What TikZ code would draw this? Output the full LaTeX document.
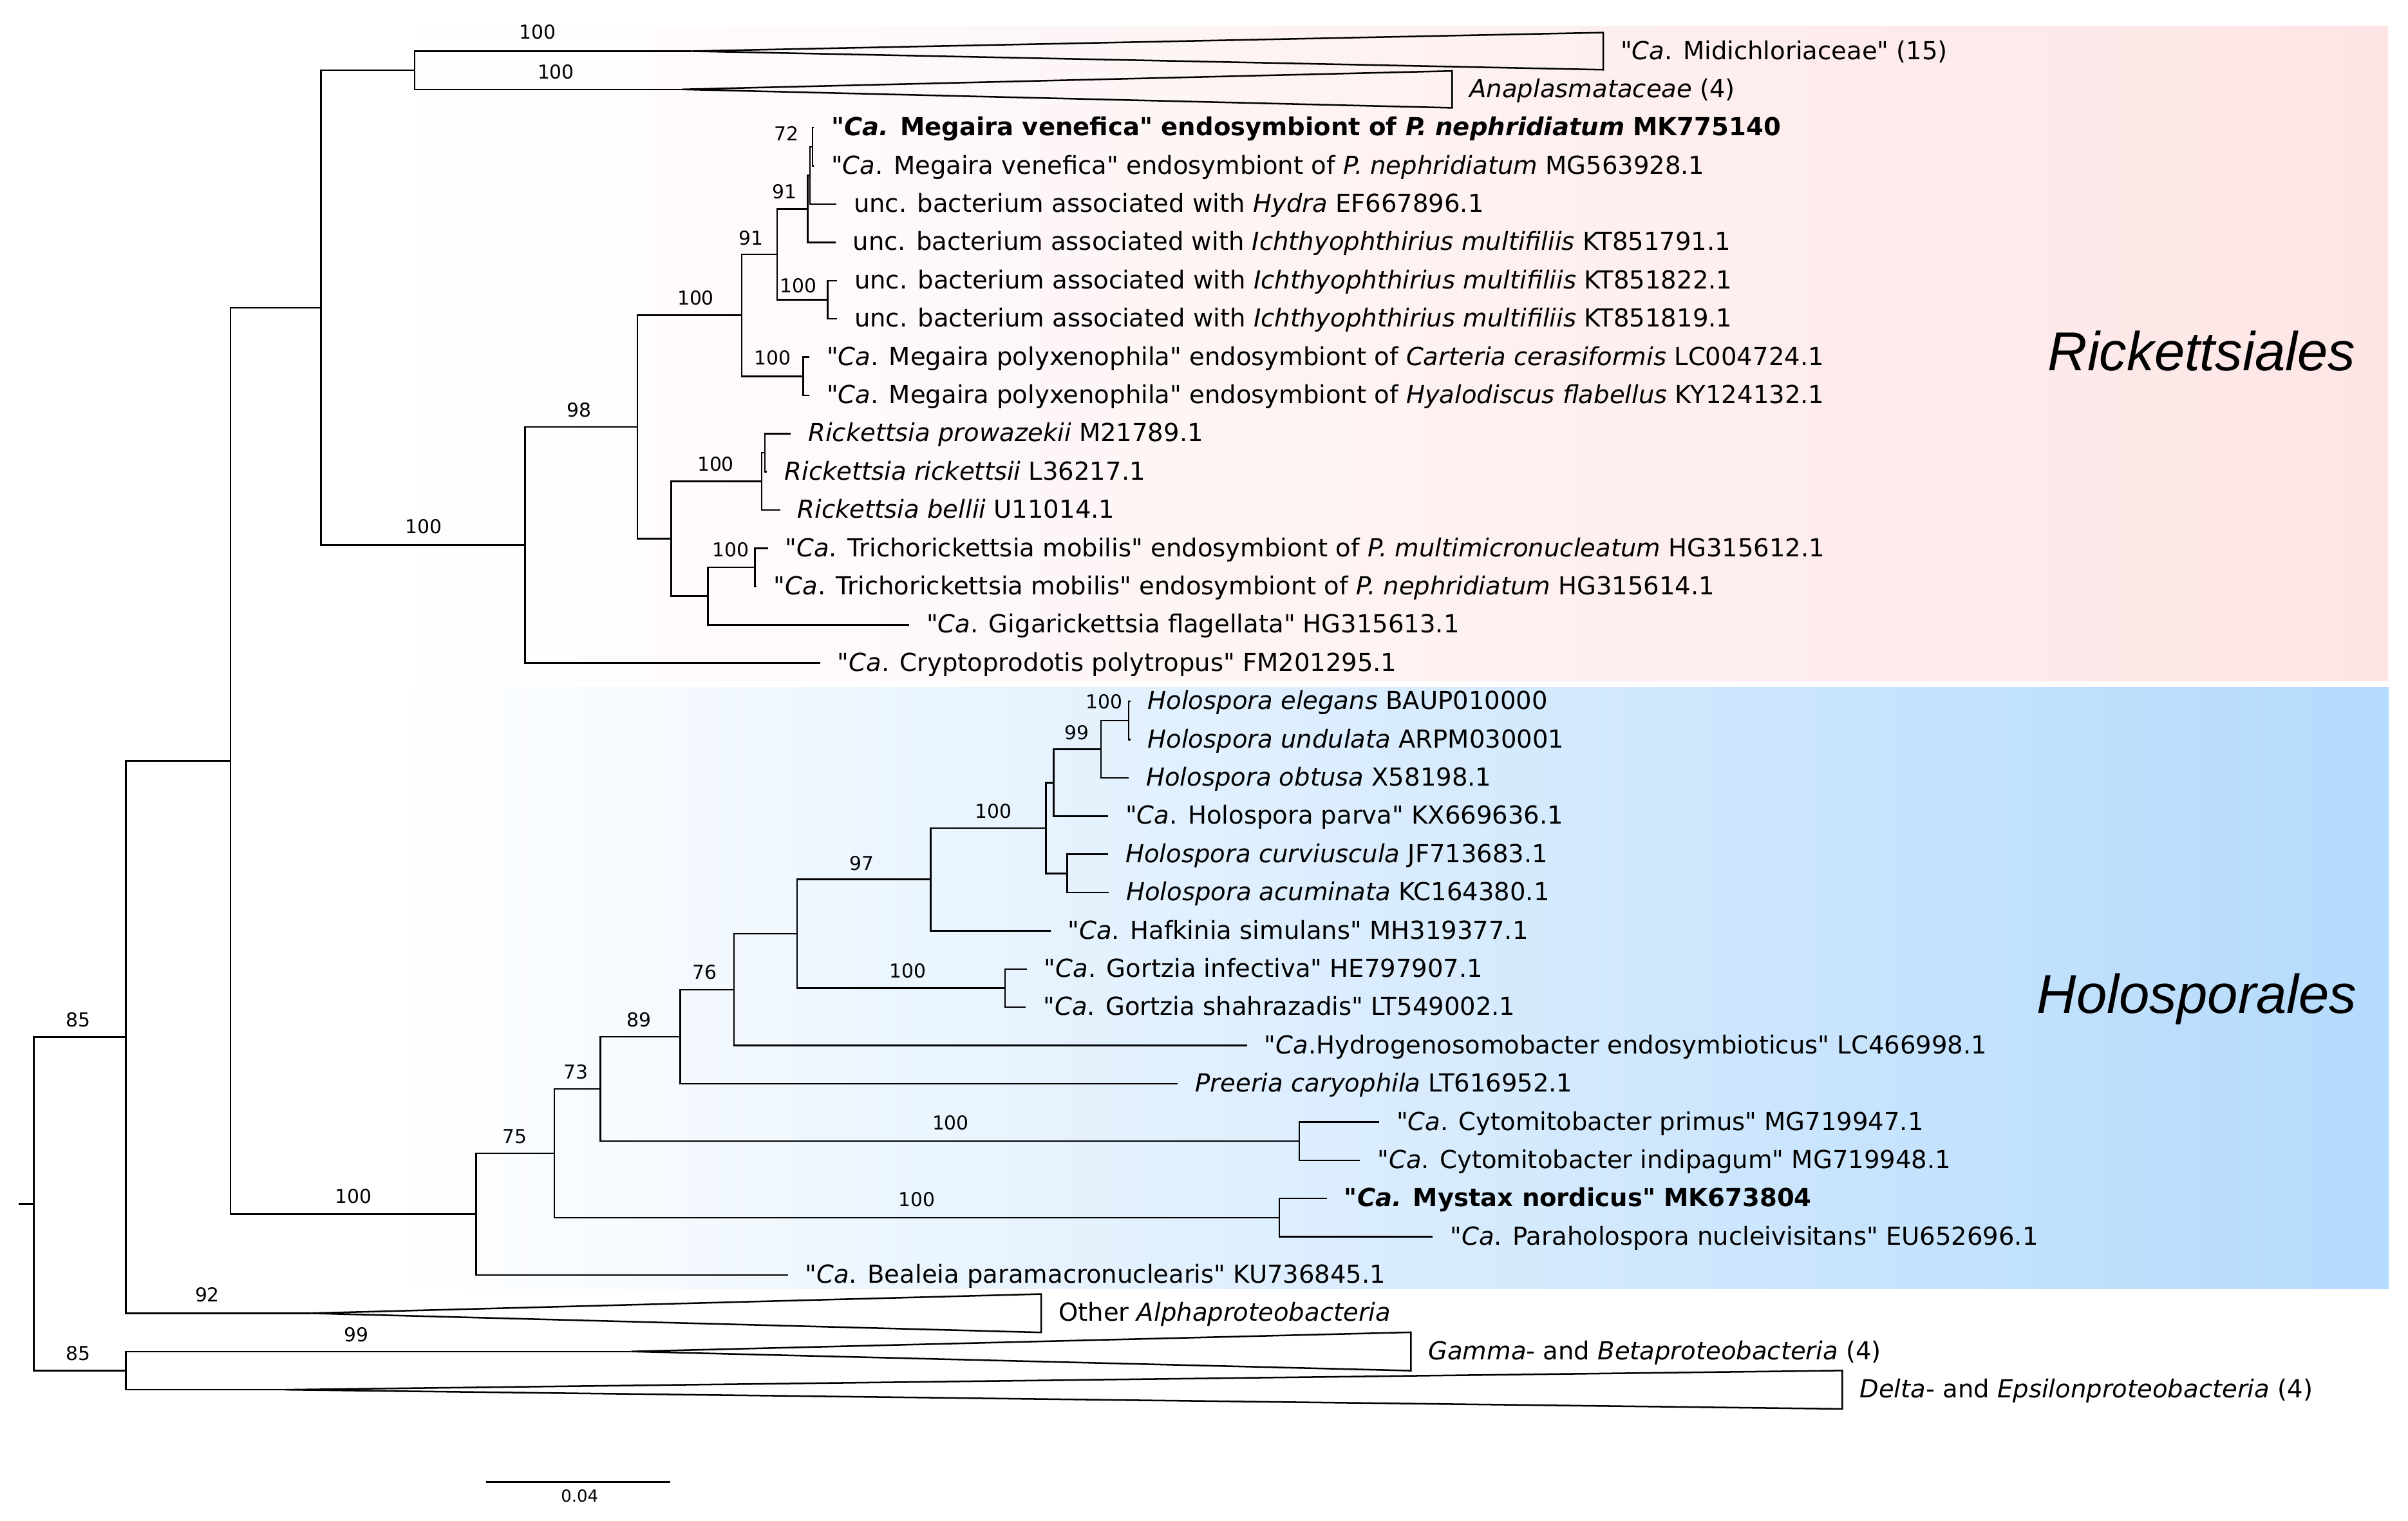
\documentclass[tikz,border=0pt]{standalone}
\usepackage{fontspec}
\setmainfont{DejaVu Sans}
\newfontfamily\cladefont{Liberation Sans}
\usetikzlibrary{positioning}
\definecolor{rickpink}{RGB}{253,229,229}
\definecolor{holoblue}{RGB}{180,218,252}
% straight double quote, not mapped to a curly one
\newcommand{\qmark}{\XeTeXglyph\XeTeXcharglyph"22\relax}

\begin{document}
\begin{tikzpicture}[x=0.02cm, y=-0.02cm,
            branch/.style={ line width=0.6pt },
            collapsed/.style={ line width=0.6pt, line join=miter },
            tip/.style={ inner sep=0pt, text height=1.5ex, text depth=.4ex, font=\fontsize{9.2}{11}\selectfont },
            boot/.style={ inner sep=0pt, font=\fontsize{7.1}{8}\selectfont },
            order/.style={ inner sep=0pt, font=\cladefont\itshape\fontsize{20.3}{24}\selectfont }
        ]
            \useasboundingbox (0,0) rectangle (1568,990);

            % Order backgrounds
            \shade[left color=white, right color=rickpink] (250,16.9) rectangle (1555,443.5);
            \shade[left color=white, right color=holoblue] (250,447.4) rectangle (1555.5,839);
            \node (rickettsiales) [order, anchor=base east] at (1534,241.3) {Rickettsiales};
            \node (holosporales) [order, anchor=base east] at (1535,659.5) {Holosporales};

            % Inner nodes
            \coordinate (stub) at (12,783.8);
            \coordinate (root) at (22,783.8);
            \coordinate (n82) at (82,675.2);
            \coordinate (nOut) at (82,892.35);
            \coordinate (n150) at (150,495.4);
            \coordinate (n209) at (209,200.3);
            \coordinate (nMidAna) at (270,45.75);
            \coordinate (n342) at (342,354.9);
            \coordinate (n415) at (415,278);
            \coordinate (n483) at (483,205.3);
            \coordinate (n506) at (506,165.6);
            \coordinate (n526) at (526,136);
            \coordinate (nX) at (527.5,114.2);
            \coordinate (n529) at (529,95.55);
            \coordinate (n539) at (539,195.15);
            \coordinate (nPoly) at (523,244.95);
            \coordinate (n437) at (437,350.75);
            \coordinate (nRick) at (496,313.4);
            \coordinate (nRpr) at (498,294.75);
            \coordinate (n461) at (461,388.1);
            \coordinate (nTri) at (491.5,369.45);
            \coordinate (n310) at (310,790.5);
            \coordinate (n361) at (361,750.85);
            \coordinate (n391) at (391,708.95);
            \coordinate (n443) at (443,674.95);
            \coordinate (n478) at (478,644.3);
            \coordinate (n519) at (519,607.9);
            \coordinate (n606) at (606,572.5);
            \coordinate (nHolo) at (681,539.1);
            \coordinate (nB) at (686,509.5);
            \coordinate (nD) at (717,487.7);
            \coordinate (nE) at (735,469.05);
            \coordinate (nC) at (695,568.65);
            \coordinate (nGor) at (654.5,643.35);
            \coordinate (nCyt) at (846,742.95);
            \coordinate (nMys) at (833,792.75);

            % Tip ends
            \coordinate (kMidi) at (450,33.3);   \coordinate (rMidi) at (1044,33.3);
            \coordinate (kAnap) at (444,58.2);   \coordinate (rAnap) at (945.6,58.2);
            \coordinate (eVen1) at (530,83.1);
            \coordinate (eVen2) at (530,108);
            \coordinate (eHydra) at (544.6,132.9);
            \coordinate (eIch1) at (544,157.8);
            \coordinate (eIch2) at (545,182.7);
            \coordinate (eIch3) at (545,207.6);
            \coordinate (ePol1) at (527,232.5);
            \coordinate (ePol2) at (527,257.4);
            \coordinate (eRpro) at (515,282.3);
            \coordinate (eRric) at (499.5,307.2);
            \coordinate (eRbel) at (508,332.1);
            \coordinate (eTri1) at (500,357);
            \coordinate (eTri2) at (492.5,381.9);
            \coordinate (eGiga) at (592,406.8);
            \coordinate (eCrypt) at (534,431.7);
            \coordinate (eHele) at (736,456.6);
            \coordinate (eHund) at (736,481.5);
            \coordinate (eHobt) at (735,506.4);
            \coordinate (eHpar) at (721.6,531.3);
            \coordinate (eHcur) at (721.6,556.2);
            \coordinate (eHacu) at (722,581.1);
            \coordinate (eHaf) at (684,606);
            \coordinate (eGor1) at (668.6,630.9);
            \coordinate (eGor2) at (668,655.8);
            \coordinate (eHydro) at (812,680.7);
            \coordinate (ePree) at (767,705.6);
            \coordinate (eCyt1) at (898,730.5);
            \coordinate (eCyt2) at (885.6,755.4);
            \coordinate (eMys) at (864,780.3);
            \coordinate (ePara) at (933,805.2);
            \coordinate (eBeal) at (513,830.1);
            \coordinate (kAlpha) at (202,855);   \coordinate (rAlpha) at (678,855);
            \coordinate (kGamma) at (411,879.9); \coordinate (rGamma) at (918.7,879.9);
            \coordinate (kDelta) at (186,904.8); \coordinate (rDelta) at (1199.6,904.8);

            % Branches
            \draw[branch] (stub) -- (root);
            \draw[branch] (root) |- (n82) (root) |- (nOut);
            \draw[branch] (n82) |- (n150) (n82) |- (kAlpha);
            \draw[branch] (nOut) |- (kGamma) (nOut) |- (kDelta);
            \draw[branch] (n150) |- (n209) (n150) |- (n310);
            \draw[branch] (n209) |- (nMidAna) (n209) |- (n342);
            \draw[branch] (nMidAna) |- (kMidi) (nMidAna) |- (kAnap);
            \draw[branch] (n342) |- (n415) (n342) |- (eCrypt);
            \draw[branch] (n415) |- (n483) (n415) |- (n437);
            \draw[branch] (n483) |- (n506) (n483) |- (nPoly);
            \draw[branch] (n506) |- (n526) (n506) |- (n539);
            \draw[branch] (n526) |- (nX) (n526) |- (eIch1);
            \draw[branch] (nX) |- (n529) (nX) |- (eHydra);
            \draw[branch] (n529) |- (eVen1) (n529) |- (eVen2);
            \draw[branch] (n539) |- (eIch2) (n539) |- (eIch3);
            \draw[branch] (nPoly) |- (ePol1) (nPoly) |- (ePol2);
            \draw[branch] (n437) |- (nRick) (n437) |- (n461);
            \draw[branch] (nRick) |- (nRpr) (nRick) |- (eRbel);
            \draw[branch] (nRpr) |- (eRpro) (nRpr) |- (eRric);
            \draw[branch] (n461) |- (nTri) (n461) |- (eGiga);
            \draw[branch] (nTri) |- (eTri1) (nTri) |- (eTri2);
            \draw[branch] (n310) |- (n361) (n310) |- (eBeal);
            \draw[branch] (n361) |- (n391) (n361) |- (nMys);
            \draw[branch] (n391) |- (n443) (n391) |- (nCyt);
            \draw[branch] (n443) |- (n478) (n443) |- (ePree);
            \draw[branch] (n478) |- (n519) (n478) |- (eHydro);
            \draw[branch] (n519) |- (n606) (n519) |- (nGor);
            \draw[branch] (n606) |- (nHolo) (n606) |- (eHaf);
            \draw[branch] (nHolo) |- (nB) (nHolo) |- (nC);
            \draw[branch] (nB) |- (nD) (nB) |- (eHpar);
            \draw[branch] (nD) |- (nE) (nD) |- (eHobt);
            \draw[branch] (nE) |- (eHele) (nE) |- (eHund);
            \draw[branch] (nC) |- (eHcur) (nC) |- (eHacu);
            \draw[branch] (nGor) |- (eGor1) (nGor) |- (eGor2);
            \draw[branch] (nCyt) |- (eCyt1) (nCyt) |- (eCyt2);
            \draw[branch] (nMys) |- (eMys) (nMys) |- (ePara);

            % Collapsed clades
            \draw[collapsed] (kMidi) -- ([yshift=2.42mm]rMidi) -- ([yshift=-2.42mm]rMidi) -- cycle;
            \draw[collapsed] (kAnap) -- ([yshift=2.4mm]rAnap) -- ([yshift=-2.4mm]rAnap) -- cycle;
            \draw[collapsed] (kAlpha) -- ([yshift=2.5mm]rAlpha) -- ([yshift=-2.5mm]rAlpha) -- cycle;
            \draw[collapsed] (kGamma) -- ([yshift=2.5mm]rGamma) -- ([yshift=-2.5mm]rGamma) -- cycle;
            \draw[collapsed] (kDelta) -- ([yshift=2.5mm]rDelta) -- ([yshift=-2.5mm]rDelta) -- cycle;

            % Tip labels
            \node (tMidi) [tip, right=2.2mm of rMidi] {\qmark\textit{Ca}. Midichloriaceae\qmark{} (15)};
            \node (tAnap) [tip, right=2.2mm of rAnap] {\textit{Anaplasmataceae} (4)};
            \node (tVen1) [tip, right=2.2mm of eVen1] {\textbf{\qmark\textit{Ca.} Megaira venefica\qmark{} endosymbiont of \textit{P. nephridiatum} MK775140}};
            \node (tVen2) [tip, right=2.2mm of eVen2] {\qmark\textit{Ca}. Megaira venefica\qmark{} endosymbiont of \textit{P. nephridiatum} MG563928.1};
            \node (tHydra) [tip, right=2.2mm of eHydra] {unc. bacterium associated with \textit{Hydra} EF667896.1};
            \node (tIch1) [tip, right=2.2mm of eIch1] {unc. bacterium associated with \textit{Ichthyophthirius multifiliis} KT851791.1};
            \node (tIch2) [tip, right=2.2mm of eIch2] {unc. bacterium associated with \textit{Ichthyophthirius multifiliis} KT851822.1};
            \node (tIch3) [tip, right=2.2mm of eIch3] {unc. bacterium associated with \textit{Ichthyophthirius multifiliis} KT851819.1};
            \node (tPol1) [tip, right=2.2mm of ePol1] {\qmark\textit{Ca}. Megaira polyxenophila\qmark{} endosymbiont of \textit{Carteria cerasiformis} LC004724.1};
            \node (tPol2) [tip, right=2.2mm of ePol2] {\qmark\textit{Ca}. Megaira polyxenophila\qmark{} endosymbiont of \textit{Hyalodiscus flabellus} KY124132.1};
            \node (tRpro) [tip, right=2.2mm of eRpro] {\textit{Rickettsia prowazekii} M21789.1};
            \node (tRric) [tip, right=2.2mm of eRric] {\textit{Rickettsia rickettsii} L36217.1};
            \node (tRbel) [tip, right=2.2mm of eRbel] {\textit{Rickettsia bellii} U11014.1};
            \node (tTri1) [tip, right=2.2mm of eTri1] {\qmark\textit{Ca}. Trichorickettsia mobilis\qmark{} endosymbiont of \textit{P. multimicronucleatum} HG315612.1};
            \node (tTri2) [tip, right=2.2mm of eTri2] {\qmark\textit{Ca}. Trichorickettsia mobilis\qmark{} endosymbiont of \textit{P. nephridiatum} HG315614.1};
            \node (tGiga) [tip, right=2.2mm of eGiga] {\qmark\textit{Ca}. Gigarickettsia flagellata\qmark{} HG315613.1};
            \node (tCrypt) [tip, right=2.2mm of eCrypt] {\qmark\textit{Ca}. Cryptoprodotis polytropus\qmark{} FM201295.1};
            \node (tHele) [tip, right=2.2mm of eHele] {\textit{Holospora elegans} BAUP010000};
            \node (tHund) [tip, right=2.2mm of eHund] {\textit{Holospora undulata} ARPM030001};
            \node (tHobt) [tip, right=2.2mm of eHobt] {\textit{Holospora obtusa} X58198.1};
            \node (tHpar) [tip, right=2.2mm of eHpar] {\qmark\textit{Ca}. Holospora parva\qmark{} KX669636.1};
            \node (tHcur) [tip, right=2.2mm of eHcur] {\textit{Holospora curviuscula} JF713683.1};
            \node (tHacu) [tip, right=2.2mm of eHacu] {\textit{Holospora acuminata} KC164380.1};
            \node (tHaf) [tip, right=2.2mm of eHaf] {\qmark\textit{Ca}. Hafkinia simulans\qmark{} MH319377.1};
            \node (tGor1) [tip, right=2.2mm of eGor1] {\qmark\textit{Ca}. Gortzia infectiva\qmark{} HE797907.1};
            \node (tGor2) [tip, right=2.2mm of eGor2] {\qmark\textit{Ca}. Gortzia shahrazadis\qmark{} LT549002.1};
            \node (tHydro) [tip, right=2.2mm of eHydro] {\qmark\textit{Ca}.Hydrogenosomobacter endosymbioticus\qmark{} LC466998.1};
            \node (tPree) [tip, right=2.2mm of ePree] {\textit{Preeria caryophila} LT616952.1};
            \node (tCyt1) [tip, right=2.2mm of eCyt1] {\qmark\textit{Ca}. Cytomitobacter primus\qmark{} MG719947.1};
            \node (tCyt2) [tip, right=2.2mm of eCyt2] {\qmark\textit{Ca}. Cytomitobacter indipagum\qmark{} MG719948.1};
            \node (tMys) [tip, right=2.2mm of eMys] {\textbf{\qmark\textit{Ca.} Mystax nordicus\qmark{} MK673804}};
            \node (tPara) [tip, right=2.2mm of ePara] {\qmark\textit{Ca}. Paraholospora nucleivisitans\qmark{} EU652696.1};
            \node (tBeal) [tip, right=2.2mm of eBeal] {\qmark\textit{Ca}. Bealeia paramacronuclearis\qmark{} KU736845.1};
            \node (tAlpha) [tip, right=2.2mm of rAlpha] {Other \textit{Alphaproteobacteria}};
            \node (tGamma) [tip, right=2.2mm of rGamma] {\textit{Gamma}- and \textit{Betaproteobacteria} (4)};
            \node (tDelta) [tip, right=2.2mm of rDelta] {\textit{Delta}- and \textit{Epsilonproteobacteria} (4)};

            % Bootstrap values
            \node (bMidi) [boot] at (350,21) {100};
            \node (bAnap) [boot] at (362,47) {100};
            \node (bVen) [boot] at (512,87) {72};
            \node (bX) [boot] at (511,125) {91};
            \node (b506) [boot] at (489,155) {91};
            \node (bIch) [boot] at (520,186) {100};
            \node (b483) [boot] at (453,194) {100};
            \node (bPoly) [boot] at (503,233) {100};
            \node (b415) [boot] at (377,267) {98};
            \node (bRick) [boot] at (466,302) {100};
            \node (b342) [boot] at (276,343) {100};
            \node (bTri) [boot] at (476,358) {100};
            \node (bHele) [boot] at (719,457) {100};
            \node (bD) [boot] at (701,477) {99};
            \node (bHolo) [boot] at (647,528) {100};
            \node (b606) [boot] at (561,562) {97};
            \node (bGor) [boot] at (591,632) {100};
            \node (b478) [boot] at (459,633) {76};
            \node (b443) [boot] at (416,664) {89};
            \node (b82) [boot] at (51,664) {85};
            \node (b391) [boot] at (375,698) {73};
            \node (bCyt) [boot] at (619,731) {100};
            \node (b361) [boot] at (335,740) {75};
            \node (bMys) [boot] at (597,781) {100};
            \node (b310) [boot] at (230,779) {100};
            \node (bAlpha) [boot] at (135,843) {92};
            \node (bGamma) [boot] at (232,869) {99};
            \node (bOut) [boot] at (51,881) {85};

            % Scale bar
            \coordinate (sbl) at (316.6,964.8);
            \coordinate (sbr) at (436.4,964.8);
            \draw[branch] (sbl) -- (sbr);
            \node (sblabel) [boot, font=\fontsize{6.2}{7}\selectfont] at (377.4,974) {0.04};

        \end{tikzpicture}
\end{document}
